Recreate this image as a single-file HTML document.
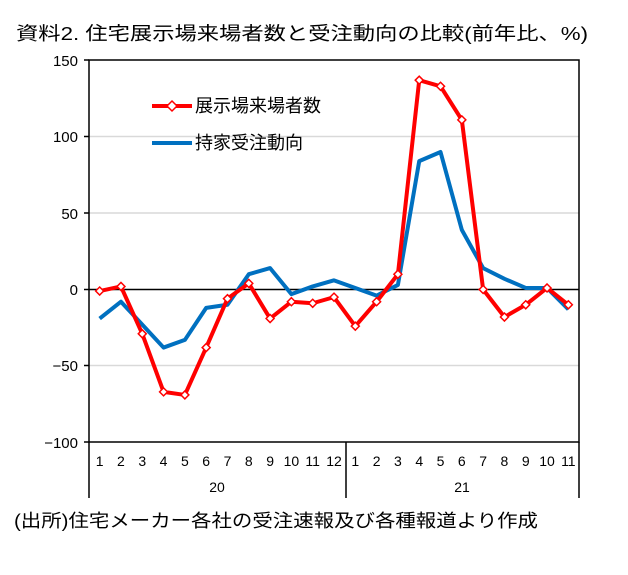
<!DOCTYPE html>
<html><head><meta charset="utf-8"><style>
body{margin:0;background:#fff;}
text{font-family:"Liberation Sans","Noto Sans CJK JP",sans-serif;}
</style></head><body>
<svg width="628" height="570" xmlns="http://www.w3.org/2000/svg">
<rect width="628" height="570" fill="#fff"/>
<text x="16" y="40" font-size="18.5" textLength="572" lengthAdjust="spacingAndGlyphs">資料2. 住宅展示場来場者数と受注動向の比較(前年比、%)</text>
<g stroke="#d9d9d9" stroke-width="1.5">
<line x1="89" x2="579" y1="136.5" y2="136.5"/>
<line x1="89" x2="579" y1="213" y2="213"/>
<line x1="89" x2="579" y1="365.5" y2="365.5"/>
</g>
<g stroke="#000" stroke-width="1.5" fill="none">
<rect x="89" y="60" width="490" height="382"/>
<line x1="89" x2="579" y1="289.5" y2="289.5"/>
<line x1="89" x2="89" y1="442" y2="498"/>
<line x1="346" x2="346" y1="442" y2="498"/>
<line x1="579" x2="579" y1="442" y2="498"/>
<line x1="84" x2="89" y1="60" y2="60"/><line x1="84" x2="89" y1="136.5" y2="136.5"/><line x1="84" x2="89" y1="213" y2="213"/><line x1="84" x2="89" y1="289.5" y2="289.5"/><line x1="84" x2="89" y1="365.5" y2="365.5"/><line x1="84" x2="89" y1="442" y2="442"/>
</g>
<g font-size="15" text-anchor="end">
<text x="78" y="66">150</text><text x="78" y="142">100</text><text x="78" y="219">50</text><text x="78" y="295">0</text><text x="78" y="371">−50</text><text x="78" y="448">−100</text>
</g>
<g id="cats" font-size="14" text-anchor="middle"></g>
<text x="217" y="492" font-size="14" text-anchor="middle">20</text>
<text x="462" y="492" font-size="14" text-anchor="middle">21</text>
<polyline id="blue" fill="none" stroke="#0070c0" stroke-width="4" stroke-linejoin="round"/>
<polyline id="red" fill="none" stroke="#ff0000" stroke-width="4" stroke-linejoin="round"/>
<g id="mk"></g>
<line x1="152" x2="192" y1="106" y2="106" stroke="#ff0000" stroke-width="4"/>
<polygon points="172,101 177,106 172,111 167,106" fill="#fff" stroke="#ff0000" stroke-width="1.5"/>
<text x="195" y="112" font-size="18">展示場来場者数</text>
<line x1="152" x2="192" y1="143" y2="143" stroke="#0070c0" stroke-width="4"/>
<text x="195" y="149" font-size="18">持家受注動向</text>
<text x="14" y="527" font-size="18" textLength="524" lengthAdjust="spacingAndGlyphs">(出所)住宅メーカー各社の受注速報及び各種報道より作成</text>
</svg>
<script>
var r=[-1,2,-29,-67,-69,-38,-6,4,-19,-8,-9,-5,-24,-8,10,137,133,111,0,-18,-10,1,-10];
var b=[-19,-8,-23,-38,-33,-12,-10,10,14,-3,2,6,1,-4,3,84,90,39,14,7,1,1,-13];
var w=490/23;function X(i){return 89+w*(i+0.5);}function Y(v){return 289.5-v*1.528;}
var ns="http://www.w3.org/2000/svg";
document.getElementById('red').setAttribute('points',r.map((v,i)=>X(i)+','+Y(v)).join(' '));
document.getElementById('blue').setAttribute('points',b.map((v,i)=>X(i)+','+Y(v)).join(' '));
var mk=document.getElementById('mk'),c=document.getElementById('cats');
r.forEach((v,i)=>{var p=document.createElementNS(ns,'polygon');var x=X(i),y=Y(v);
p.setAttribute('points',[x,y-4,x+4,y,x,y+4,x-4,y].join(' ').replace(/(\S+) (\S+)/g,'$1,$2'));
p.setAttribute('fill','#fff');p.setAttribute('stroke','#ff0000');p.setAttribute('stroke-width','1.5');mk.appendChild(p);
var t=document.createElementNS(ns,'text');t.setAttribute('x',X(i));t.setAttribute('y',466);t.textContent=i<12?i+1:i-11;c.appendChild(t);});
</script>
</body></html>
